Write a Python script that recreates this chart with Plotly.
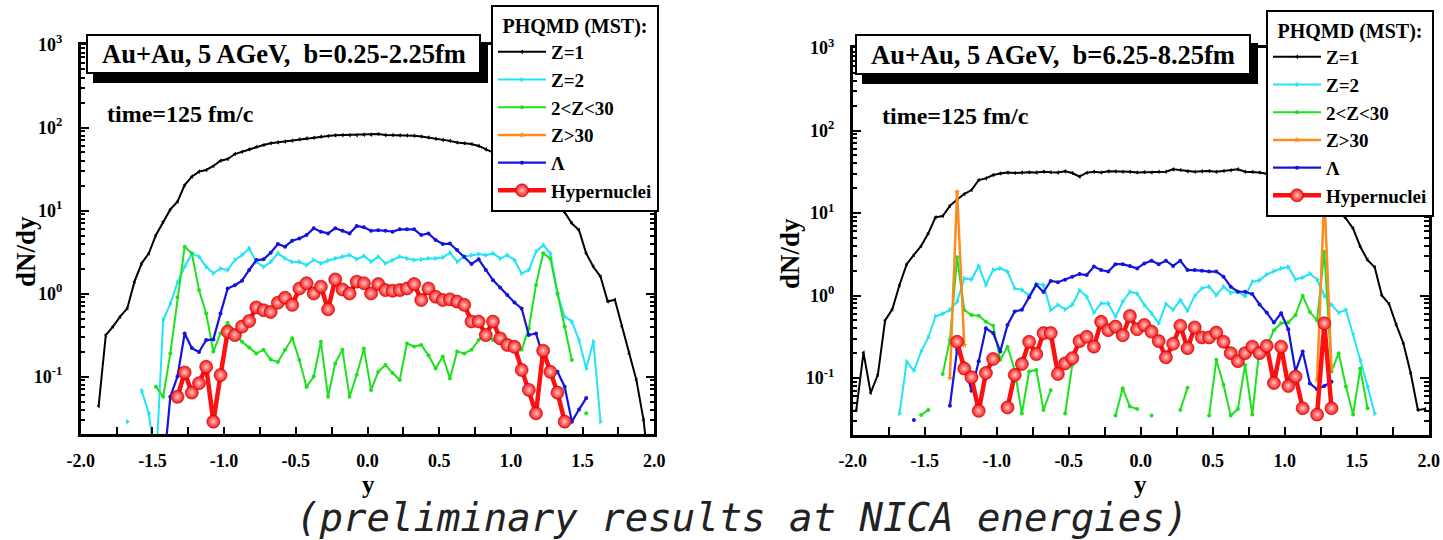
import plotly.graph_objects as go

W, H = 1443, 540

# rapidity bin centres shared by both panels
Y_BINS = [
    -1.975, -1.925, -1.875, -1.825, -1.775, -1.725, -1.675, -1.625, -1.575, -1.525,
    -1.475, -1.425, -1.375, -1.325, -1.275, -1.225, -1.175, -1.125, -1.075, -1.025,
    -0.975, -0.925, -0.875, -0.825, -0.775, -0.725, -0.675, -0.625, -0.575, -0.525,
    -0.475, -0.425, -0.375, -0.325, -0.275, -0.225, -0.175, -0.125, -0.075, -0.025,
    0.025, 0.075, 0.125, 0.175, 0.225, 0.275, 0.325, 0.375, 0.425, 0.475,
    0.525, 0.575, 0.625, 0.675, 0.725, 0.775, 0.825, 0.875, 0.925, 0.975,
    1.025, 1.075, 1.125, 1.175, 1.225, 1.275, 1.325, 1.375, 1.425, 1.475,
    1.525, 1.575, 1.625, 1.675, 1.725, 1.775, 1.825, 1.875, 1.925, 1.975,
]

# ---- central collisions, b = 0.25-2.25 fm (first bin index into Y_BINS, dN/dy values)
C_Z1_START = 2
C_Z1 = [0.044, 0.316, 0.40, 0.526, 0.663, 1.39, 2.31, 3.05, 5.07, 7.3,
        10.3, 12.8, 20.3, 25.6, 29.4, 30.8, 34.4, 39.8, 41.7, 47.9,
        51, 54.6, 58.7, 61.5, 64.5, 66.3, 67.5, 69.4, 72, 74,
        75.4, 77.6, 79, 80.5, 81, 81, 81, 82, 82, 83.5,
        81, 81, 80.5, 80, 79.5, 78, 76, 73, 70.7, 69,
        66, 64.5, 63.2, 60, 54.6, 50, 46, 42, 38, 33,
        28, 24, 20, 16, 12.5, 9.5, 7.0, 5.8, 3.05, 2.1,
        1.6, 0.8, 0.84, 0.4, 0.19, 0.091, 0.03, 0.005]

C_Z2_START = 6
C_Z2 = [0.0286, None, 0.0676, 0.036, 0.008, 0.48, 0.75, 1.35, 2.1, 3.03,
        2.78, 2.1, 1.75, 2.0, 1.92, 2.54, 2.91, 3.5, 2.4, 2.1,
        2.4, 3.05, 2.65, 2.4, 2.4, 2.2, 2.54, 2.3, 2.5, 2.65,
        2.78, 2.9, 2.6, 2.83, 2.42, 2.78, 2.31, 2.53, 2.78, 2.65,
        2.53, 2.58, 2.65, 2.65, 2.72, 3.1, 2.42, 2.78, 2.9, 2.99,
        2.9, 3.05, 2.65, 2.9, 2.53, 1.75, 1.92, 3.19, 3.84, 3.05,
        1.0, 0.526, 0.46, 0.275, 0.125, 0.263, 0.0286]

C_ZMID_START = 10
C_ZMID = [0.0755, 0.057, 0.19, 0.9, 3.67, 3.05, 1.1, 0.576, 0.2, 0.33,
          0.445, 0.33, 0.263, 0.223, 0.19, 0.21, 0.16, 0.15, 0.21, 0.29,
          0.158, 0.075, 0.1, 0.263, 0.057, 0.144, 0.21, 0.057, 0.105, 0.218,
          0.069, 0.114, 0.138, 0.11, 0.091, 0.25, 0.23, 0.24, 0.18, 0.125,
          0.174, 0.095, 0.2, 0.19, 0.21, 0.275, 0.33, 0.275, 0.263, 0.23,
          0.23, 0.21, 0.38, 1.27, 3.05, 2.65, 1.0, 0.4, 0.158, None,
          0.036]

C_ZHEAVY_START = 0
C_ZHEAVY = []

C_LAMBDA_START = 11
C_LAMBDA = [0.007, 0.057, 0.1, 0.33, 0.22, 0.197, 0.275, 0.28, 0.576, 1.15,
            1.26, 1.43, 1.92, 2.53, 2.58, 3.1, 3.95, 3.67, 4.33, 4.6,
            5.07, 6.1, 5.56, 5.3, 6.1, 5.7, 5.3, 6.5, 6.27, 5.7,
            5.8, 5.7, 5.56, 5.93, 5.93, 5.93, 5.07, 5.3, 4.41, 3.95,
            4.0, 3.34, 2.78, 2.27, 2.58, 1.92, 1.45, 1.18, 0.96, 0.78,
            0.66, 0.316, 0.33, 0.174, 0.12, 0.114, 0.0755, 0.0286, 0.04, 0.055]

C_HYPER_START = 13
C_HYPER = [0.057, 0.112, 0.064, 0.083, 0.131, 0.0286, 0.104, 0.347, 0.316, 0.4,
           0.466, 0.68, 0.63, 0.6, 0.775, 0.89, 0.73, 1.15, 1.33, 1.0,
           1.21, 0.645, 1.48, 1.12, 1.0, 1.39, 1.33, 1.0, 1.3, 1.1,
           1.08, 1.1, 1.15, 1.3, 0.835, 1.15, 0.915, 0.835, 0.85, 0.8,
           0.73, 0.46, 0.46, 0.316, 0.46, 0.288, 0.24, 0.228, 0.12, 0.069,
           0.036, 0.205, 0.114, 0.064, 0.0286]

# ---- peripheral collisions, b = 6.25-8.25 fm
P_Z1_START = 0
P_Z1 = [0.041, 0.203, 0.066, 0.11, 0.5, 0.68, 1.34, 2.4, 3.1, 3.98,
        5.67, 8.86, 9.2, 12.2, 14.6, 17, 19, 25.1, 26.3, 28.9,
        30.2, 30.9, 30.5, 30.9, 31.2, 30.9, 31.7, 31.2, 30.9, 32,
        30.5, 27.6, 30.8, 31.6, 31, 32, 32, 31.6, 31.6, 31,
        31.3, 31, 31.6, 31.6, 33.8, 33.2, 32, 31.6, 32, 32.3,
        31.6, 32.3, 33, 33.8, 31.6, 31.6, 31, 30, 29, 28,
        27, 25, 23, 20, 17, 15, 12.5, 10.5, 8.6, 6.5,
        3.9, 2.7, 2.2, 1.0, 0.79, 0.44, 0.26, 0.114, 0.041, 0.042]

P_Z2_START = 6
P_Z2 = [0.037, 0.158, 0.123, 0.209, 0.31, 0.56, 0.6, 0.667, 0.84, 1.61,
        1.57, 2.28, 1.34, 2.04, 2.13, 1.95, 1.22, 1.17, 1.0, 1.38,
        1.34, 0.667, 0.77, 0.68, 0.77, 1.15, 0.97, 0.62, 0.80, 0.80,
        0.553, 0.84, 1.11, 1.06, 0.77, 0.61, 0.46, 0.79, 0.67, 0.88,
        0.655, 0.99, 1.22, 1.28, 1.01, 1.28, 1.08, 1.11, 0.98, 1.47,
        1.53, 1.8, 1.97, 2.13, 2.22, 1.57, 1.65, 1.84, 1.56, 1.0,
        0.77, 0.62, 0.67, 0.34, 0.165, 0.08, 0.037]

P_ZMID_START = 9
P_ZMID = [0.0356, 0.041, None, 0.112, 0.29, 2.9, 0.667, 0.58, 0.57, 0.48,
          0.43, 0.166, 0.24, 0.125, 0.037, 0.12, 0.125, 0.041, 0.071, None,
          0.037, 0.144, None, None, None, None, None, 0.035, 0.075, 0.045,
          0.042, None, 0.035, None, None, None, 0.041, 0.076, None, None,
          0.035, 0.166, 0.083, 0.035, 0.042, 0.144, 0.036, 0.229, 0.24, 0.38,
          0.46, 0.47, 0.58, 0.99, 0.63, 0.5, 3.4, 0.12, 0.2, 0.079,
          0.036, 0.13, 0.043]

P_ZHEAVY_START = 13
P_ZHEAVY = [0.1, 18, 0.25] + [None] * 48 + [0.095, 17, 0.13]

P_LAMBDA_START = 8
P_LAMBDA = [0.031, None, None, None, None, 0.046, 0.22, 0.15, 0.07, 0.16,
            0.4, 0.35, 0.21, 0.44, 0.64, 0.67, 0.95, 1.35, 1.1, 1.5,
            1.45, 1.55, 1.69, 1.82, 1.77, 2.24, 2.04, 1.95, 2.4, 2.4,
            2.28, 2.13, 2.45, 2.64, 2.4, 2.64, 2.28, 2.64, 2.04, 2.04,
            2.0, 1.95, 1.95, 1.69, 1.28, 1.11, 1.11, 1.04, 0.78, 0.62,
            0.47, 0.61, 0.39, 0.12, 0.21, 0.086, 0.073, 0.08, 0.09]

P_HYPER_START = 14
P_HYPER = [0.275, 0.13, 0.102, 0.04, 0.115, 0.17, None, 0.044, 0.109, 0.148,
           0.275, 0.195, 0.35, 0.35, 0.112, 0.15, 0.174, 0.28, 0.316, 0.24,
           0.48, 0.38, 0.42, 0.33, 0.565, 0.39, 0.44, 0.365, 0.28, 0.178,
           0.26, 0.43, 0.23, 0.41, 0.31, 0.31, 0.355, 0.275, 0.2, 0.16,
           0.2, 0.24, 0.2, 0.245, 0.087, 0.24, 0.08, 0.104, 0.043, None,
           0.036, 0.46, 0.043]

SERIES_NAMES = ["Z=1", "Z=2", "2&lt;Z&lt;30", "Z&gt;30", "\u039b", "Hypernuclei"]
PANEL_TITLES = ["Au+Au, 5 AGeV,  b=0.25-2.25fm", "Au+Au, 5 AGeV,  b=6.25-8.25fm"]
TIME_LABEL = "time=125 fm/c"
X_TICKS = [-2.0, -1.75, -1.5, -1.25, -1.0, -0.75, -0.5, -0.25, 0.0,
           0.25, 0.5, 0.75, 1.0, 1.25, 1.5, 1.75, 2.0]
X_TICK_TEXT = ["-2.0", "", "-1.5", "", "-1.0", "", "-0.5", "", "0.0",
               "", "0.5", "", "1.0", "", "1.5", "", "2.0"]
Y_TICKS = [0.1, 1, 10, 100, 1000]
Y_TICK_TEXT = ["10<sup>-1</sup>", "10<sup>0</sup>", "10<sup>1</sup>",
               "10<sup>2</sup>", "10<sup>3</sup>"]
Y_MINOR = [m * d for d in (0.01, 0.1, 1, 10, 100) for m in range(2, 10)]

SERIF = "Liberation Serif"

STYLES = [
    dict(color="#000000", symbol="triangle-left", size=4, width=2.0),
    dict(color="#22e4f4", symbol="triangle-right", size=5, width=2.0),
    dict(color="#1ee11e", symbol="circle", size=4, width=2.0),
    dict(color="#ff8a1e", symbol="star", size=5, width=2.5),
    dict(color="#1414dc", symbol="circle", size=4, width=2.2),
    dict(color="#ff1010", symbol="circle", size=13, width=4.5),
]

panels = [
    [(C_Z1_START, C_Z1), (C_Z2_START, C_Z2), (C_ZMID_START, C_ZMID),
     (C_ZHEAVY_START, C_ZHEAVY), (C_LAMBDA_START, C_LAMBDA), (C_HYPER_START, C_HYPER)],
    [(P_Z1_START, P_Z1), (P_Z2_START, P_Z2), (P_ZMID_START, P_ZMID),
     (P_ZHEAVY_START, P_ZHEAVY), (P_LAMBDA_START, P_LAMBDA), (P_HYPER_START, P_HYPER)],
]


def px_x(X):
    return X / W


def px_y(Y):
    return 1 - Y / H


fig = go.Figure()

for p, series in enumerate(panels):
    xa = "x" if p == 0 else "x2"
    ya = "y" if p == 0 else "y2"
    leg = "legend" if p == 0 else "legend2"
    for (start, vals), name, st in zip(series, SERIES_NAMES, STYLES):
        xs = Y_BINS[start:start + len(vals)]
        ys = list(vals)
        if not ys:
            xs, ys = [None], [None]
        marker = dict(symbol=st["symbol"], size=st["size"], color=st["color"],
                      line=dict(width=0))
        if name == "Hypernuclei":
            marker["gradient"] = dict(type="radial", color="#ffc8c8")
            marker["line"] = dict(width=0.6, color="#b00000")
        fig.add_trace(go.Scatter(
            x=xs, y=ys, mode="lines+markers", name=name,
            line=dict(color=st["color"], width=st["width"]),
            marker=marker, xaxis=xa, yaxis=ya, legend=leg,
            connectgaps=False, cliponaxis=True,
        ))

axis_common = dict(
    showline=True, linewidth=2.5, linecolor="black", mirror="ticks",
    ticks="inside", tickcolor="black", showgrid=False, zeroline=False,
    automargin=False,
    tickfont=dict(family=SERIF, size=18, color="black", weight="bold"),
)

x_domains = [[80.7 / W, 654.3 / W], [852.7 / W, 1428.7 / W]]
y_domains = [[px_y(434.3), px_y(44.5)], [px_y(435.0), px_y(48.0)]]
y_ranges = [[-1.696, 3.0], [-1.691, 3.0]]

for p in range(2):
    sfx = "" if p == 0 else "2"
    fig.layout["xaxis" + sfx] = dict(
        axis_common, domain=x_domains[p], range=[-2, 2],
        tickvals=X_TICKS, ticktext=X_TICK_TEXT, ticklen=8, tickwidth=2,
        ticklabelstandoff=8, anchor="y" + sfx,
    )
    fig.layout["yaxis" + sfx] = dict(
        axis_common, type="log", domain=y_domains[p], range=y_ranges[p],
        tickvals=Y_TICKS, ticktext=Y_TICK_TEXT, ticklen=9, tickwidth=2,
        ticklabelstandoff=12, anchor="x" + sfx,
        minor=dict(ticks="inside", tickvals=Y_MINOR, ticklen=5, tickwidth=1.5,
                   tickcolor="black", showgrid=False),
    )

legend_common = dict(
    xanchor="left", yanchor="top", bgcolor="white", bordercolor="black",
    borderwidth=2, itemwidth=48, traceorder="normal",
    font=dict(family=SERIF, size=19, color="black", weight="bold"),
    title=dict(text="PHQMD (MST):", side="top center",
               font=dict(family=SERIF, size=20, color="black", weight="bold")),
)
fig.update_layout(
    legend=dict(legend_common, x=px_x(491), y=px_y(5)),
    legend2=dict(legend_common, x=px_x(1266), y=px_y(10)),
)

shapes = []
annotations = []
title_boxes = [(87, 35, 480, 73), (856, 35, 1250, 74)]
time_pos = [(180, 114), (955, 116)]
ylab_pos = [(26, 252), (790, 254)]
xlab_pos = [(368, 484), (1140, 484)]

for p in range(2):
    x0, y0, x1, y1 = title_boxes[p]
    # drop shadow, then the white framed box
    shapes.append(dict(type="rect", xref="paper", yref="paper",
                       x0=px_x(x0 + 6), x1=px_x(x1 + 8), y0=px_y(y1 + 10), y1=px_y(y0 + 8),
                       fillcolor="black", line=dict(width=0), layer="above"))
    shapes.append(dict(type="rect", xref="paper", yref="paper",
                       x0=px_x(x0), x1=px_x(x1), y0=px_y(y1), y1=px_y(y0),
                       fillcolor="white", line=dict(color="black", width=2), layer="above"))
    annotations.append(dict(
        text=PANEL_TITLES[p], xref="paper", yref="paper",
        x=px_x((x0 + x1) / 2), y=px_y((y0 + y1) / 2), showarrow=False,
        xanchor="center", yanchor="middle",
        font=dict(family=SERIF, size=26.5, color="black", weight="bold")))
    annotations.append(dict(
        text=TIME_LABEL, xref="paper", yref="paper",
        x=px_x(time_pos[p][0]), y=px_y(time_pos[p][1]), showarrow=False,
        xanchor="center", yanchor="middle",
        font=dict(family=SERIF, size=24, color="black", weight="bold")))
    annotations.append(dict(
        text="dN/dy", xref="paper", yref="paper", textangle=-90,
        x=px_x(ylab_pos[p][0]), y=px_y(ylab_pos[p][1]), showarrow=False,
        xanchor="center", yanchor="middle",
        font=dict(family=SERIF, size=27, color="black", weight="bold")))
    annotations.append(dict(
        text="y", xref="paper", yref="paper",
        x=px_x(xlab_pos[p][0]), y=px_y(xlab_pos[p][1]), showarrow=False,
        xanchor="center", yanchor="middle",
        font=dict(family=SERIF, size=25, color="black", weight="bold")))

annotations.append(dict(
    text="(preliminary results at NICA energies)", xref="paper", yref="paper",
    x=px_x(742), y=px_y(517), showarrow=False, xanchor="center", yanchor="middle",
    font=dict(family="DejaVu Sans Mono", size=39, color="#222222", style="italic")))

fig.update_layout(
    template="none",
    width=W, height=H, autosize=False,
    margin=dict(l=0, r=0, t=0, b=0, pad=0),
    paper_bgcolor="white", plot_bgcolor="white",
    shapes=shapes, annotations=annotations,
)

fig.write_html("out.html")
